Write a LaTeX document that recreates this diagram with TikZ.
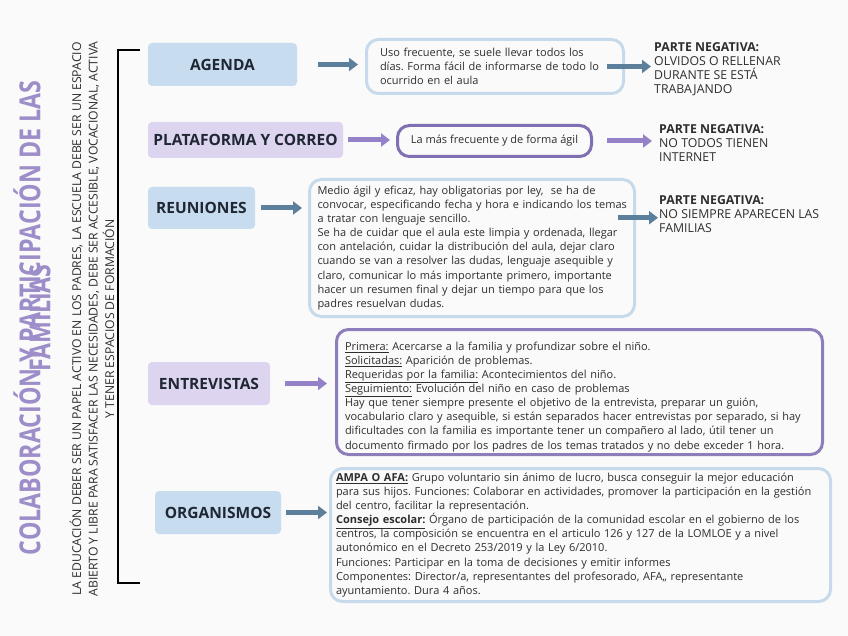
\documentclass[tikz,border=0pt]{standalone}
\usepackage{fontspec}
\setmainfont{Open Sans}
\newfontfamily\narrowfont[FakeStretch=0.8]{Open Sans}
\usetikzlibrary{arrows.meta}
\definecolor{paper}{HTML}{FAFAFA}
\definecolor{boxblue}{HTML}{C8DCF0}
\definecolor{boxlilac}{HTML}{DDD5F0}
\definecolor{arrowblue}{HTML}{5C7F9C}
\definecolor{arrowlilac}{HTML}{9581C7}
\definecolor{lineblue}{HTML}{C6DAEC}
\definecolor{linelilac}{HTML}{8070B3}
\definecolor{titlelilac}{HTML}{9D8DC9}
\definecolor{ink}{HTML}{2E2E2E}
\definecolor{darkink}{HTML}{1F2733}
\tikzset{topic/.style={rounded corners=4pt,inner sep=0pt,text=darkink,font=\fontsize{15.5}{17}\selectfont\bfseries},
  topic blue/.style={topic,fill=boxblue},topic lilac/.style={topic,fill=boxlilac},
  info/.style={draw,line width=3pt,rounded corners=12pt,fill=paper,text=ink,align=left,inner ysep=0pt,font=\fontsize{11}{14.1}\selectfont},
  info blue/.style={info,draw=lineblue},info lilac/.style={info,draw=linelilac},
  fat arrow/.style={line width=5pt,-{Triangle[length=9pt,width=13pt]}},
  blue arrow/.style={fat arrow,draw=arrowblue},lilac arrow/.style={fat arrow,draw=arrowlilac},
  negative/.style={anchor=north west,inner sep=0pt,align=left,text=ink,font=\fontsize{12.3}{14}\selectfont}}

\begin{document}
\frenchspacing
\begin{tikzpicture}[x=1pt,y=-1pt]
		\fill[paper] (0,0) rectangle (848,636);
		\useasboundingbox (0,0) rectangle (848,636);
		% title and motto
		\node[rotate=90,text=titlelilac,font=\narrowfont\fontsize{29}{30}\selectfont\bfseries] (title) at (27,318) {COLABORACIÓN Y PARTICIPACIÓN DE LAS};
		\node[rotate=90,text=titlelilac,font=\narrowfont\fontsize{29}{30}\selectfont\bfseries] (titleb) at (40,318) {FAMILIAS};
		\node[rotate=90,align=center,text=ink,font=\fontsize{12.2}{16.5}\selectfont] (motto) at (92,319)
			{LA EDUCACIÓN DEBER SER UN PAPEL ACTIVO EN LOS PADRES, LA ESCUELA DEBE SER UN ESPACIO\\
			 ABIERTO Y LIBRE PARA SATISFACER LAS NECESIDADES, DEBE SER ACCESIBLE, VOCACIONAL, ACTIVA\\
			 Y TENER ESPACIOS DE FORMACIÓN};
		\draw[line width=1.5pt] (140,50) -- (118,50) -- (118,583) -- (140,583);
		% topics
		\node[topic blue,minimum width=149pt,minimum height=43pt] (agenda) at (222.5,64.5) {AGENDA};
		\node[topic lilac,minimum width=195pt,minimum height=36pt] (plat) at (245.5,140) {PLATAFORMA Y CORREO};
		\node[topic blue,minimum width=107pt,minimum height=42pt] (reun) at (201.5,208) {REUNIONES};
		\node[topic lilac,minimum width=122pt,minimum height=43pt] (entrev) at (209,383.5) {ENTREVISTAS};
		\node[topic blue,minimum width=126pt,minimum height=43pt] (organ) at (218,512.5) {ORGANISMOS};
		% descriptions
		\node[info blue,inner xsep=13.5pt,text width=230pt,minimum height=54pt] (agendatxt) at (495,66.5)
			{Uso frecuente, se suele llevar todos los\\días. Forma fácil de informarse de todo lo\\ocurrido en el aula};
		\node[info lilac,align=center,inner xsep=0pt,minimum width=194pt,minimum height=31pt] (plattxt) at (494.5,141)
			{La más frecuente y de forma ágil};
		\node[info blue,inner xsep=8pt,text width=309pt,minimum height=137pt] (reuntxt) at (472,248)
			{Medio ágil y eficaz, hay obligatorias por ley,\ \ se ha de\\
			 \mbox{convocar, especificando fecha y hora e indicando los temas}\\
			 a tratar con lenguaje sencillo.\\
			 Se ha de cuidar que el aula este limpia y ordenada, llegar\\
			 con antelación, cuidar la distribución del aula, dejar claro\\
			 cuando se van a resolver las dudas, lenguaje asequible y\\
			 claro, comunicar lo más importante primero, importante\\
			 hacer un resumen final y dejar un tiempo para que los\\
			 padres resuelvan dudas.};
		\node[info lilac,draw=linelilac!90,inner xsep=8.5pt,text width=469pt,minimum height=125pt] (entrevtxt) at (579.5,392)
			{\rule{0pt}{18pt}\underline{Primera:} Acercarse a la familia y profundizar sobre el niño.\\
			 \underline{Solicitadas:} Aparición de problemas.\\
			 \underline{Requeridas por la familia:} Acontecimientos del niño.\\
			 \underline{Seguimiento:} Evolución del niño en caso de problemas\\
			 Hay que tener siempre presente el objetivo de la entrevista, preparar un guión,\\
			 vocabulario claro y asequible, si están separados hacer entrevistas por separado, si hay\\
			 dificultades con la familia es importante tener un compañero al lado, útil tener un\\
			 documento firmado por los padres de los temas tratados y no debe exceder 1 hora.};
		\node[info blue,inner xsep=5.5pt,text width=489pt,minimum height=133pt] (organtxt) at (580.5,535)
			{\underline{\textbf{AMPA O AFA:}} Grupo voluntario sin ánimo de lucro, busca conseguir la mejor educación\\
			 para sus hijos. Funciones: Colaborar en actividades, promover la participación en la gestión\\
			 del centro, facilitar la representación.\\
			 \underline{\textbf{Consejo escolar:}} Órgano de participación de la comunidad escolar en el gobierno de los\\
			 centros, la composición se encuentra en el articulo 126 y 127 de la LOMLOE y a nivel\\
			 autonómico en el Decreto 253/2019 y la Ley 6/2010.\\
			 Funciones: Participar en la toma de decisiones y emitir informes\\
			 Componentes: Director/a, representantes del profesorado, AFA,, representante\\
			 ayuntamiento. Dura 4 años.};
		% drawbacks
		\node[negative] (neg1) at (654,42) {\textbf{PARTE NEGATIVA:}\\OLVIDOS O RELLENAR\\DURANTE SE ESTÁ\\TRABAJANDO};
		\node[negative] (neg2) at (659,124) {\textbf{PARTE NEGATIVA:}\\NO TODOS TIENEN\\INTERNET};
		\node[negative] (neg3) at (659,195) {\textbf{PARTE NEGATIVA:}\\NO SIEMPRE APARECEN LAS\\FAMILIAS};
		% arrows
		\draw[blue arrow,shorten <=21pt,shorten >=7pt] (agenda.east) -- (agenda.east -| agendatxt.west);
		\draw[lilac arrow,shorten <=5pt,shorten >=6pt] (plat.east) -- (plat.east -| plattxt.west);
		\draw[blue arrow,shorten <=6pt,shorten >=6pt] (reun.east) -- (reun.east -| reuntxt.west);
		\draw[lilac arrow,shorten <=15pt,shorten >=8pt] (entrev.east) -- (entrev.east -| entrevtxt.west);
		\draw[blue arrow,shorten <=5pt,shorten >=2pt] (organ.east) -- (organ.east -| organtxt.west);
		\draw[blue arrow,shorten <=-18pt,shorten >=3pt] (agendatxt.east) -- (agendatxt.east -| neg1.west);
		\draw[lilac arrow,shorten <=14pt,shorten >=7pt] (plattxt.east) -- (plattxt.east -| neg2.west);
		\draw[blue arrow,shorten <=-18pt,shorten >=1pt] ([yshift=-4pt]neg3.west -| reuntxt.east) -- ([yshift=-4pt]neg3.west);
\end{tikzpicture}
\end{document}
